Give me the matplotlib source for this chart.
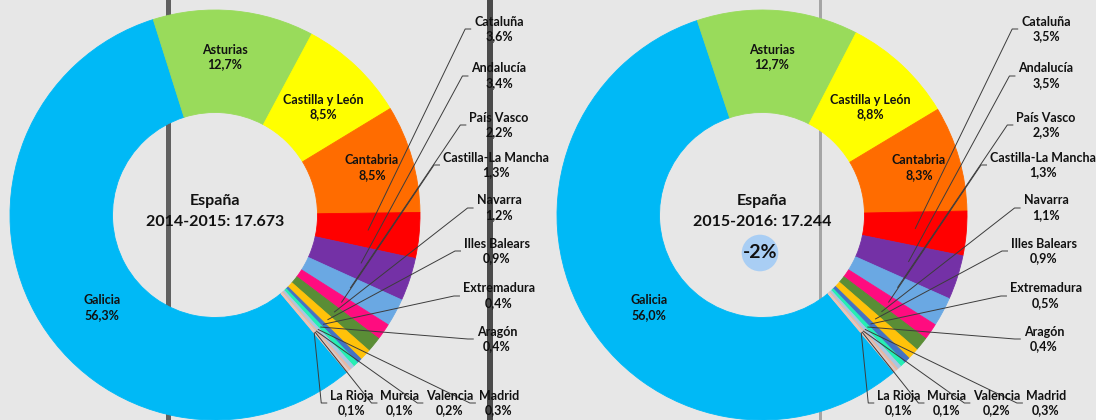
"""
Two donut charts: share of each region in Spain, 2014-2015 vs 2015-2016.
"""
import matplotlib.pyplot as plt
import numpy as np
from matplotlib.patches import Circle

# ── Data ─────────────────────────────────────────────────────────────────────
REGIONS = ["Galicia", "Asturias", "Castilla y León", "Cantabria", "Cataluña",
           "Andalucía", "País Vasco", "Castilla-La Mancha", "Navarra",
           "Illes Balears", "Extremadura", "Aragón", "Madrid", "Valencia",
           "Murcia", "La Rioja"]
SHARE_1415 = [56.3, 12.7, 8.5, 8.5, 3.6, 3.4, 2.2, 1.3, 1.2, 0.9, 0.4, 0.4,
              0.3, 0.2, 0.1, 0.1]
SHARE_1516 = [56.0, 12.7, 8.8, 8.3, 3.5, 3.5, 2.3, 1.3, 1.1, 0.9, 0.5, 0.4,
              0.3, 0.2, 0.1, 0.1]
PERIODS = ["2014-2015", "2015-2016"]
TOTALS = ["17.673", "17.244"]
CHANGE = "-2%"

COLORS = ["#00B9F6", "#99DB5B", "#FFFF00", "#FF6C00", "#FF0000", "#7431A6",
          "#6AA8E3", "#FF0C7F", "#5A8D36", "#FFC20A", "#4472C4", "#25EFB4",
          "#A9C6E2", "#E9B8A4", "#CFCFD8", "#F2C2B0"]

# ── Layout (pixels, y measured from the top) ────────────────────────────────
W, H = 1096, 420
CENTERS = [(215, 215), (762, 215)]
RADIUS = 205
HOLE = 0.5
START_ANGLE = -50          # Galicia starts at ~140° clockwise from 12 o'clock
LEADER_R = 0.75

# label offsets from the chart centre
IN_LABELS = {"Galicia": (-113, 93), "Asturias": (10, -158),
             "Castilla y León": (108, -108), "Cantabria": (157, -47)}
OUT_LABELS = {"Cataluña": (284, -186), "Andalucía": (284, -139),
              "País Vasco": (284, -90), "Castilla-La Mancha": (281, -50),
              "Navarra": (284, -7), "Illes Balears": (282, 36),
              "Extremadura": (284, 81), "Aragón": (282, 124),
              "La Rioja": (137, 188), "Murcia": (185, 188),
              "Valencia": (235, 188), "Madrid": (284, 188)}

# wood-plank background: light boards with a few dark seams
BG_COLOR = "#e7e7e7"
SEAMS = [(168, 5, "#333333", 0.75), (490, 6, "#2e2e2e", 0.85),
         (820, 3, "#7a7a7a", 0.6)]

FONT = "Lato"
TXT = "#111111"


def pct(v):
    return f"{v:.1f}".replace(".", ",") + "%"


def draw_chart(ax, center, shares, period, total):
    cx, cy = center
    wedges, _ = ax.pie(shares, colors=COLORS, startangle=START_ANGLE,
                       counterclock=False, radius=RADIUS,
                       center=(cx, H - cy),
                       wedgeprops=dict(width=RADIUS * HOLE, linewidth=0.6))
    for w in wedges:
        w.set_edgecolor(w.get_facecolor())
        w.set_zorder(2)

    ax.text(cx, H - (cy - 14), "España", ha="center", va="center",
            fontsize=11.5, fontweight="bold", family=FONT, color=TXT, zorder=5)
    ax.text(cx, H - (cy + 7), f"{period}: {total}", ha="center", va="center",
            fontsize=11.5, fontweight="bold", family=FONT, color=TXT, zorder=5)

    leaders = []
    for name, share, w in zip(REGIONS, shares, wedges):
        label = f"{name}\n{pct(share)}"
        if name in IN_LABELS:
            dx, dy = IN_LABELS[name]
            ax.text(cx + dx, H - (cy + dy), label, ha="center", va="center",
                    fontsize=9, fontweight="bold", family=FONT, color=TXT,
                    linespacing=1.3, zorder=5)
            continue
        dx, dy = OUT_LABELS[name]
        t = ax.text(cx + dx, H - (cy + dy), label, ha="center", va="center",
                    fontsize=9, fontweight="bold", family=FONT, color=TXT,
                    linespacing=1.3, zorder=5)
        mid = np.deg2rad((w.theta1 + w.theta2) / 2)
        sx = cx + RADIUS * LEADER_R * np.cos(mid)
        sy = H - cy + RADIUS * LEADER_R * np.sin(mid)
        leaders.append((t, sx, sy))
    return leaders


def main():
    plt.rcParams["font.family"] = [FONT, "DejaVu Sans"]
    fig = plt.figure(figsize=(W / 100, H / 100), dpi=100)
    fig.patch.set_facecolor(BG_COLOR)
    ax = fig.add_axes([0, 0, 1, 1])
    ax.set_facecolor(BG_COLOR)

    for x, lw, c, a in SEAMS:
        ax.axvline(x, color=c, lw=lw * 0.72, alpha=a, zorder=0)

    leaders = []
    for center, shares, period, total in zip(CENTERS, [SHARE_1415, SHARE_1516],
                                             PERIODS, TOTALS):
        leaders += draw_chart(ax, center, shares, period, total)

    # change bubble on the second chart
    cx, cy = CENTERS[1]
    ax.add_patch(Circle((cx - 2, H - (cy + 38)), 18.3, facecolor="#A9CEF4",
                        edgecolor="none", zorder=4))
    ax.text(cx - 2, H - (cy + 38), CHANGE, ha="center", va="center",
            fontsize=14, fontweight="bold", family=FONT, color=TXT, zorder=5)

    ax.set_xlim(0, W)
    ax.set_ylim(0, H)
    ax.set_axis_off()

    fig.canvas.draw()
    renderer = fig.canvas.get_renderer()
    inv = ax.transData.inverted()
    for t, sx, sy in leaders:
        bb = t.get_window_extent(renderer)
        (x0, y0), (x1, y1) = inv.transform([[bb.x0, bb.y0], [bb.x1, bb.y1]])
        ex, ey = x0 - 3, (y0 + y1) / 2
        ax.plot([sx, ex - 6, ex], [sy, ey, ey], color="#3c3c3c", lw=0.7,
                zorder=3, solid_capstyle="butt")

    fig.savefig("out.png", dpi=100, facecolor=BG_COLOR)


if __name__ == "__main__":
    main()
